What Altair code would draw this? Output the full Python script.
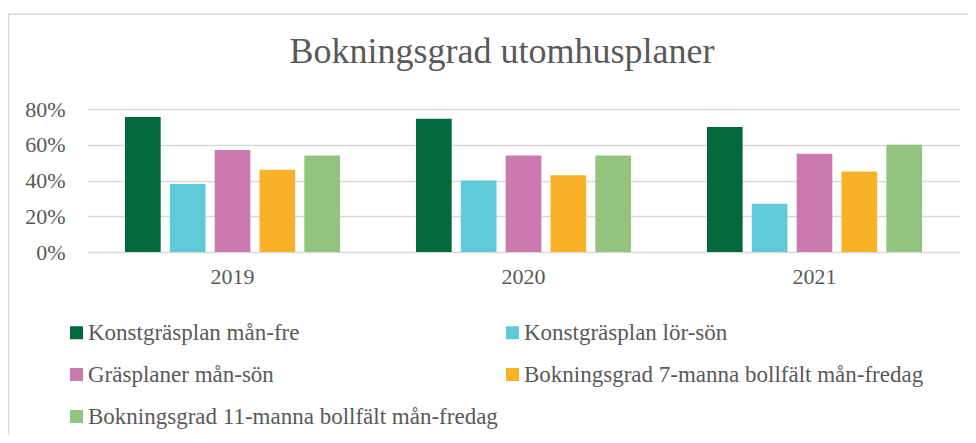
import altair as alt
import pandas as pd

years = ["2019", "2020", "2021"]
series = [
    "Konstgräsplan mån-fre",
    "Konstgräsplan lör-sön",
    "Gräsplaner mån-sön",
    "Bokningsgrad 7-manna bollfält mån-fredag",
    "Bokningsgrad 11-manna bollfält mån-fredag",
]
konst_man_fre = [0.755, 0.745, 0.70]
konst_lor_son = [0.38, 0.40, 0.27]
gras_man_son = [0.57, 0.54, 0.55]
bollfalt_7 = [0.46, 0.43, 0.45]
bollfalt_11 = [0.54, 0.54, 0.60]
colors = ["#03693D", "#60CAD9", "#CB7AAF", "#F9B228", "#93C47F"]

rows = []
for s, vals in zip(series, [konst_man_fre, konst_lor_son, gras_man_son, bollfalt_7, bollfalt_11]):
    for y, v in zip(years, vals):
        rows.append({"År": y, "Serie": s, "Värde": v})
df = pd.DataFrame(rows)

FONT = "Liberation Serif"
TXT = "#595959"
W, H = 873, 143

bars = alt.Chart(df).mark_bar().encode(
    x=alt.X(
        "År:N", sort=years,
        scale=alt.Scale(paddingInner=0.261, paddingOuter=0.1306),
        axis=alt.Axis(title=None, labelAngle=0, domain=False, ticks=False,
                      labelPadding=14, labelFontSize=22, labelFont=FONT, labelColor=TXT),
    ),
    xOffset=alt.XOffset("Serie:N", sort=series,
                        scale=alt.Scale(paddingInner=0.204, paddingOuter=0)),
    y=alt.Y(
        "Värde:Q",
        scale=alt.Scale(domain=[0, 0.8], nice=False),
        axis=alt.Axis(values=[0, 0.2, 0.4, 0.6, 0.8], format=".0%", title=None,
                      domain=False, ticks=False, labelPadding=22, labelFontSize=22,
                      labelFont=FONT, labelColor=TXT,
                      gridColor="#D9D9D9", gridWidth=1.5),
    ),
    color=alt.Color(
        "Serie:N", sort=series,
        scale=alt.Scale(domain=series, range=colors),
        legend=alt.Legend(
            title=None, orient="none", legendX=-22, legendY=212, columns=2,
            direction="horizontal",
            columnPadding=3, rowPadding=18, symbolType="square", symbolSize=169,
            symbolStrokeWidth=0, labelFontSize=23, labelFont=FONT, labelColor=TXT,
            labelOffset=0, padding=0, labelLimit=800,
        ),
    ),
)

frame = alt.Data(values=[{}])
border_left = alt.Chart(frame).mark_rule(color="#D9D9D9", strokeWidth=1.5).encode(
    x=alt.value(-78.5), y=alt.value(-95), y2=alt.value(330)
)
border_top = alt.Chart(frame).mark_rule(color="#D9D9D9", strokeWidth=1.5).encode(
    x=alt.value(-78.5), x2=alt.value(881), y=alt.value(-95)
)

chart = alt.layer(border_left, border_top, bars).properties(
    width=W, height=H,
    title=alt.TitleParams(
        "Bokningsgrad utomhusplaner", font=FONT, fontSize=36, fontWeight="normal",
        color=TXT, anchor="middle", dx=-21.5, offset=-86, baseline="alphabetic",
    ),
    autosize=alt.AutoSizeParams(type="none"),
    padding={"left": 79, "top": 101, "right": 8, "bottom": 183},
).configure_view(stroke=None)

chart.save("out.html", embed_options={"renderer": "svg", "actions": False})
